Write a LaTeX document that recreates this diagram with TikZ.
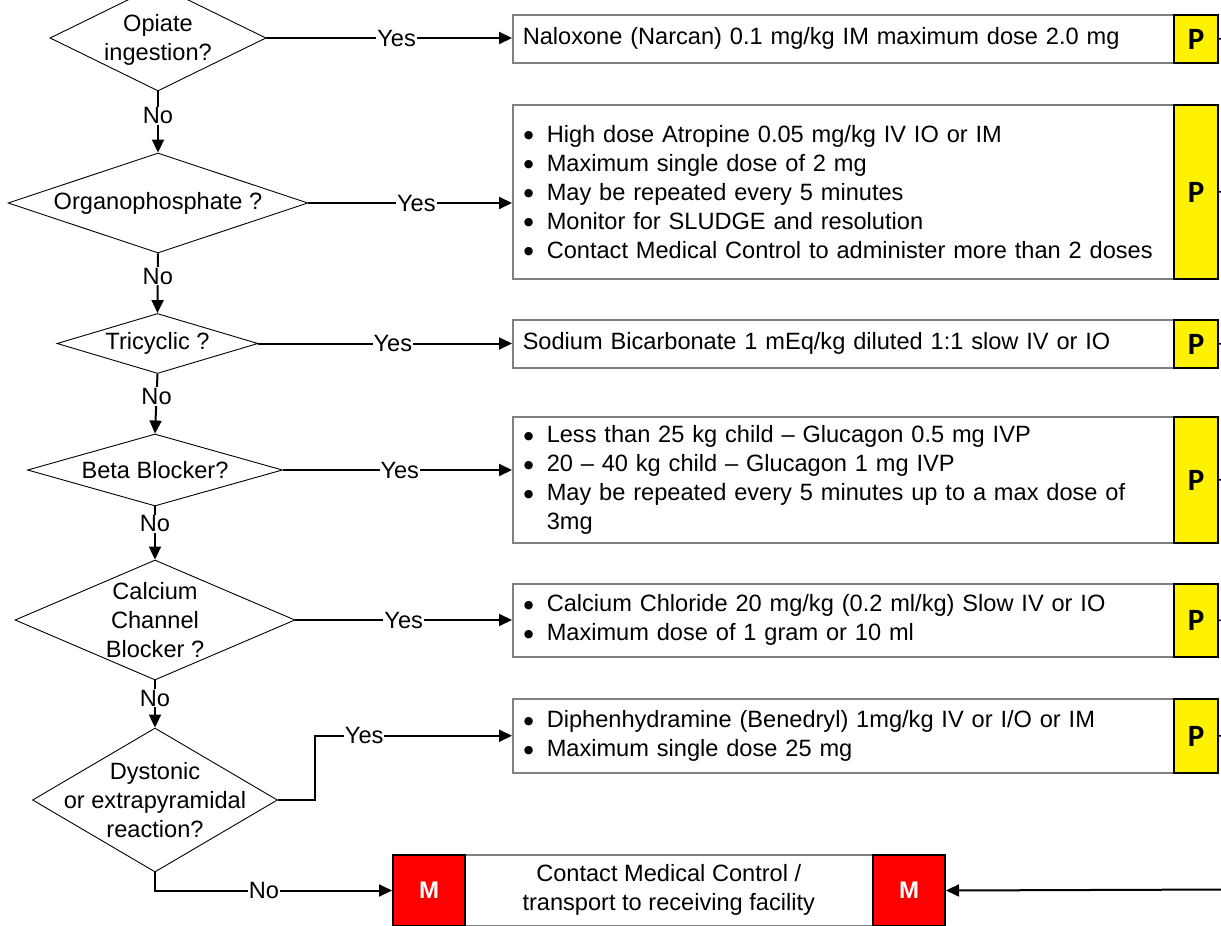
\documentclass[tikz,border=0pt]{standalone}
\usepackage{fontspec}
\setmainfont{Liberation Sans}
\newfontfamily\pfont{Carlito}
\newfontfamily\symfont{DejaVu Sans}
\usetikzlibrary{shapes.geometric,arrows.meta}
\definecolor{boxgray}{HTML}{808080}
% one bulleted line, kept on a single line
\newcommand\bitem[1]{\mbox{\makebox[23pt][l]{\raisebox{3.2pt}{\symfont\fontsize{11}{11}\selectfont ●}}#1}}
\begin{document}
\begin{tikzpicture}[x=1pt,y=-1pt,
  every node/.style={font=\fontsize{23.6}{29}\selectfont},
  dia/.style={draw, line width=0.9pt, shape=diamond, inner sep=0pt},
  dtext/.style={align=center, inner sep=0pt},
  infobox/.style={draw=boxgray, line width=1.5pt, fill=white, anchor=north west,
    inner xsep=10pt, inner ysep=0pt, align=left},
  pbox/.style={draw, line width=2pt, fill=yellow, anchor=north west, inner sep=0pt,
    minimum width=44pt, font=\pfont\bfseries\fontsize{31}{31}\selectfont},
  mbox/.style={draw, line width=2pt, fill=red, text=white, anchor=north west, inner sep=0pt,
    minimum width=72pt, minimum height=71pt, font=\bfseries\fontsize{24}{29}\selectfont},
  conn/.style={draw, line width=2pt, -{Triangle[length=13pt,width=12pt]}},
  stub/.style={draw, line width=1.5pt},
  lbl/.style={fill=white, inner sep=1pt}]
\useasboundingbox (0,0) rectangle (1221,926);

% decision diamonds
\node[dia, minimum width=216pt, minimum height=106pt] (d1) at (158,38) {};
\node[dtext, yshift=-2pt] (t1) at (d1) {Opiate\\ingestion?};
\node[dia, minimum width=300pt, minimum height=100pt] (d2) at (158,203) {};
\node[dtext] (t2) at (d2) {Organophosphate ?};
\node[dia, minimum width=201pt, minimum height=60pt] (d3) at (157.5,343.5) {};
\node[dtext] (t3) at (d3) {Tricyclic ?};
\node[dia, minimum width=255pt, minimum height=72pt] (d4) at (155,470) {};
\node[dtext] (t4) at (d4) {Beta Blocker?};
\node[dia, minimum width=280pt, minimum height=120pt] (d5) at (155,620) {};
\node[dtext] (t5) at (d5) {Calcium\\Channel\\Blocker ?};
\node[dia, minimum width=245pt, minimum height=144pt] (d6) at (155,800) {};
\node[dtext] (t6) at (d6) {Dystonic\\or extrapyramidal\\reaction?};

% treatment boxes
\node[infobox, minimum width=661pt, minimum height=48pt, text width=641pt] (b1) at (512,14)
  {Naloxone (Narcan) 0.1 mg/kg IM maximum dose 2.0 mg};
\node[pbox, minimum height=48pt] (p1) at (1173,14) {P};

\node[infobox, minimum width=661pt, minimum height=174pt, text width=639pt, inner xsep=11pt] (b2) at (512,104)
  {\bitem{High dose Atropine 0.05 mg/kg IV IO or IM}\\
   \bitem{Maximum single dose of 2 mg}\\
   \bitem{May be repeated every 5 minutes}\\
   \bitem{Monitor for SLUDGE and resolution}\\
   \bitem{Contact Medical Control to administer more than 2 doses}};
\node[pbox, minimum height=174pt] (p2) at (1173,104) {P};

\node[infobox, minimum width=661pt, minimum height=48pt, text width=641pt] (b3) at (512,319)
  {Sodium Bicarbonate 1 mEq/kg diluted 1:1 slow IV or IO};
\node[pbox, minimum height=48pt] (p3) at (1173,319) {P};

\node[infobox, minimum width=661pt, minimum height=126pt, text width=639pt, inner xsep=11pt] (b4) at (512,416)
  {\bitem{Less than 25 kg child -- Glucagon 0.5 mg IVP}\\
   \bitem{20 -- 40 kg child -- Glucagon 1 mg IVP}\\
   \bitem{May be repeated every 5 minutes up to a max dose of}\\
   \hspace*{23pt}3mg};
\node[pbox, minimum height=126pt] (p4) at (1173,416) {P};

\node[infobox, minimum width=661pt, minimum height=73pt, text width=639pt, inner xsep=11pt] (b5) at (512,583)
  {\bitem{Calcium Chloride 20 mg/kg (0.2 ml/kg) Slow IV or IO}\\
   \bitem{Maximum dose of 1 gram or 10 ml}};
\node[pbox, minimum height=73pt] (p5) at (1173,583) {P};

\node[infobox, minimum width=661pt, minimum height=74pt, text width=639pt, inner xsep=11pt] (b6) at (512,698)
  {\bitem{Diphenhydramine (Benedryl) 1mg/kg IV or I/O or IM}\\
   \bitem{Maximum single dose 25 mg}};
\node[pbox, minimum height=74pt] (p6) at (1173,698) {P};

% medical control
\node[infobox, minimum width=408pt, minimum height=71pt, align=center, inner xsep=0pt] (mc) at (464,854)
  {Contact Medical Control /\\transport to receiving facility};
\node[mbox] (m1) at (392,854) {M};
\node[mbox] (m2) at (872,854) {M};

% outgoing stubs on the right
\coordinate (r1) at (1226,38);
\coordinate (r2) at (1226,191);
\coordinate (r3) at (1226,343);
\coordinate (r4) at (1226,479);
\coordinate (r5) at (1226,619.5);
\coordinate (r6) at (1226,735);
\coordinate (rin) at (1230,889.5);
\foreach \i in {1,...,6} \draw[stub] (p\i.east) -- (r\i);

% yes branches
\draw[conn] (d1.east) -- node[lbl, pos=0.53] {Yes} (d1.east -| b1.west);
\draw[conn] (d2.east) -- node[lbl, pos=0.53] {Yes} (d2.east -| b2.west);
\draw[conn] (d3.east) -- node[lbl, pos=0.53] {Yes} (d3.east -| b3.west);
\draw[conn] (d4.east) -- node[lbl, pos=0.51] {Yes} (d4.east -| b4.west);
\draw[conn] (d5.east) -- node[lbl, pos=0.50] {Yes} (d5.east -| b5.west);
\draw[conn] (d6.east) -- ++(37,0) |- node[lbl, pos=0.625] {Yes} (b6.west);

% no branches
\draw[conn] (d1.south) -- node[lbl, pos=0.40] {No} (d2.north);
\draw[conn] (d2.south) -- node[lbl, pos=0.38] {No} (d3.north);
\draw[conn] (d3.south) -- node[lbl, pos=0.38] {No} (d4.north);
\draw[conn] (d4.south) -- node[lbl, pos=0.33] {No} (d5.north);
\draw[conn] (d5.south) -- node[lbl, pos=0.375] {No} (d6.north);
\draw[conn] (d6.south) |- node[lbl, pos=0.73] {No} (m1.west);

% return to medical control
\draw[conn] (rin) -- (m2.east);
\end{tikzpicture}
\end{document}
